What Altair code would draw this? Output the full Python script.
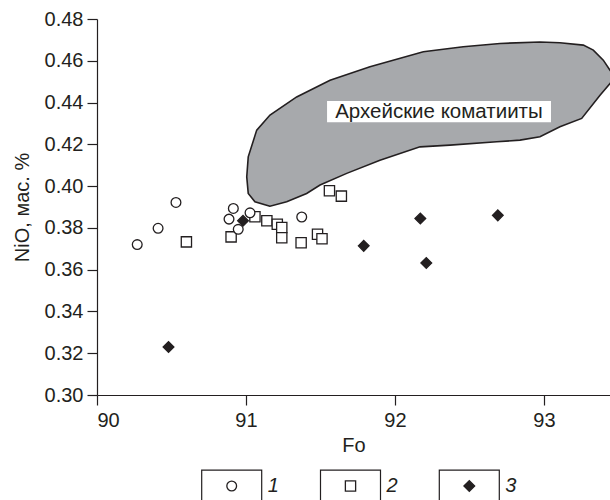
import altair as alt
import pandas as pd

# ---- data ----
fo_1 = [90.27, 90.41, 90.53, 90.915, 90.886, 90.948, 91.027, 91.374]
nio_1 = [0.372, 0.3798, 0.3922, 0.3893, 0.3842, 0.3793, 0.3872, 0.3852]

fo_2 = [90.60, 90.90, 91.06, 91.14, 91.21, 91.24, 91.24, 91.37, 91.48, 91.51, 91.56, 91.64]
nio_2 = [0.3733, 0.3757, 0.3853, 0.3834, 0.3817, 0.3802, 0.3753, 0.3729, 0.3770, 0.3748, 0.3978, 0.3952]

fo_3 = [90.48, 90.98, 91.79, 92.17, 92.21, 92.69]
nio_3 = [0.323, 0.3834, 0.3714, 0.3845, 0.3632, 0.3860]

# outline of the "Archean komatiites" field
field_fo = [91.161, 91.060, 91.015, 91.005, 91.015, 91.072, 91.161, 91.340, 91.564, 91.832,
            92.190, 92.458, 92.705, 92.973, 93.107, 93.264, 93.331, 93.398, 93.443, 93.483,
            93.443, 93.376, 93.253, 93.107, 92.973, 92.839, 92.683, 92.369, 92.168, 91.899,
            91.676, 91.497, 91.407, 91.273]
field_nio = [0.3904, 0.3925, 0.3965, 0.4044, 0.4140, 0.4268, 0.4340, 0.4427, 0.4507, 0.4571,
             0.4643, 0.4667, 0.4683, 0.4690, 0.4686, 0.4675, 0.4651, 0.4603, 0.4555, 0.4522,
             0.4491, 0.4435, 0.4324, 0.4284, 0.4236, 0.4220, 0.4212, 0.4196, 0.4188, 0.4124,
             0.4061, 0.4005, 0.3965, 0.3925]

field_label = "Архейские коматииты"
series_names = ["1", "2", "3"]
x_ticks = [90, 91, 92, 93]
y_ticks = [0.30, 0.32, 0.34, 0.36, 0.38, 0.40, 0.42, 0.44, 0.46, 0.48]

# ---- tables ----
pts = pd.concat([
    pd.DataFrame({"fo": fo_2, "nio": nio_2, "series": "2"}),
    pd.DataFrame({"fo": fo_1, "nio": nio_1, "series": "1"}),
    pd.DataFrame({"fo": fo_3, "nio": nio_3, "series": "3"}),
], ignore_index=True)
pts["ord"] = range(len(pts))

poly = pd.DataFrame({"fo": field_fo, "nio": field_nio, "i": range(len(field_fo))})

label_df = pd.DataFrame({"fo": [92.295], "nio": [0.4356], "fo2": [93.047], "nio2": [0.4306],
                         "fo1": [91.544], "nio1": [0.4407], "txt": [field_label]})
legend_df = pd.DataFrame({"series": series_names})

FONT = "Liberation Sans"
INK = "#231f20"

X = alt.X("fo:Q", scale=alt.Scale(domain=[90, 93.443], nice=False, zero=False),
          axis=alt.Axis(values=x_ticks, format="d", title="Fo"))
Y = alt.Y("nio:Q", scale=alt.Scale(domain=[0.30, 0.48], nice=False, zero=False),
          axis=alt.Axis(values=y_ticks, format=".2f", title="NiO, мас. %"))

shape_scale = alt.Scale(domain=series_names, range=["circle", "square", "diamond"])
fill_scale = alt.Scale(domain=series_names, range=["white", "white", INK])
size_scale = alt.Scale(domain=series_names, range=[95, 115, 165])

field_layer = alt.Chart(poly).mark_line(
    interpolate="linear-closed", fill="#a7a9ac", stroke=INK, strokeWidth=1.6, clip=True
).encode(x=X, y=Y, order="i:Q")

label_box = alt.Chart(label_df).mark_rect(fill="white").encode(
    x=alt.X("fo1:Q", scale=alt.Scale(domain=[90, 93.443], nice=False, zero=False)),
    x2="fo2:Q",
    y=alt.Y("nio1:Q", scale=alt.Scale(domain=[0.30, 0.48], nice=False, zero=False)),
    y2="nio2:Q",
)
label_text = alt.Chart(label_df).mark_text(
    font=FONT, fontSize=20.5, color=INK, align="center", baseline="middle"
).encode(x=X, y=Y, text="txt:N")

points = alt.Chart(pts).mark_point(filled=True, stroke=INK, strokeWidth=1.3, opacity=1).encode(
    x=X, y=Y,
    shape=alt.Shape("series:N", scale=shape_scale, legend=None),
    fill=alt.Fill("series:N", scale=fill_scale, legend=None),
    size=alt.Size("series:N", scale=size_scale, legend=None),
    order="ord:Q",
)

main = alt.layer(field_layer, label_box, label_text, points)

LX = alt.X("series:N", scale=alt.Scale(type="point", domain=series_names, range=[134.7, 372.3], padding=0),
           axis=None)

leg_box = alt.Chart(legend_df).mark_point(
    shape="M-1,-0.53H1V1.5H-1Z", size=3600, filled=False, stroke=INK, strokeWidth=1.2, opacity=1
).encode(x=LX, y=alt.value(467))

leg_sym = alt.Chart(legend_df).mark_point(filled=True, stroke=INK, strokeWidth=1.3, opacity=1).encode(
    x=LX, y=alt.value(467),
    shape=alt.Shape("series:N", scale=shape_scale, legend=None),
    fill=alt.Fill("series:N", scale=fill_scale, legend=None),
    size=alt.Size("series:N", scale=size_scale, legend=None),
)
leg_txt = alt.Chart(legend_df).mark_text(
    font=FONT, fontSize=20, fontStyle="italic", color=INK, align="left", baseline="middle", dx=36
).encode(x=LX, y=alt.value(467), text="series:N")

legend = alt.layer(leg_box, leg_sym, leg_txt)

chart = alt.layer(main, legend).resolve_scale(x="independent").properties(
    width=513, height=376,
    autosize=alt.AutoSizeParams(type="none"),
    padding={"left": 97, "top": 19, "right": 0, "bottom": 105},
    background="white",
).configure_view(stroke=None).configure_axis(
    grid=False, domainColor=INK, domainWidth=1.2, tickColor=INK, tickWidth=1.2, tickSize=10,
    labelFont=FONT, labelFontSize=20, labelColor=INK, labelPadding=4,
    titleFont=FONT, titleFontSize=20, titleColor=INK, titleFontWeight="normal",
).configure_axisX(titlePadding=5, labelPadding=5).configure_axisY(titlePadding=12)

chart.save("out.html", embed_options={"renderer": "svg", "actions": False})
